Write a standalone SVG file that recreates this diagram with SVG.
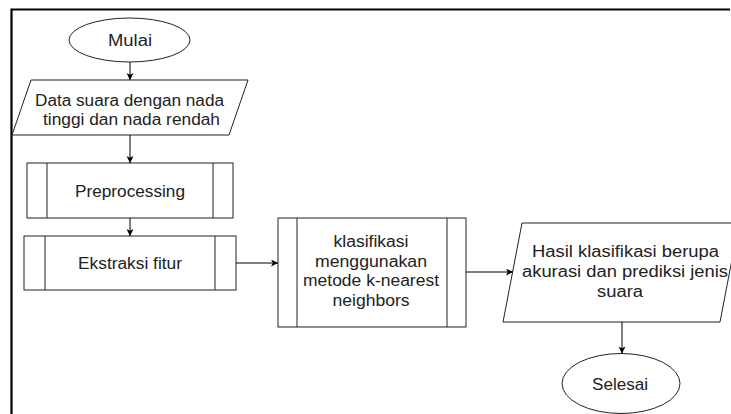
<svg xmlns="http://www.w3.org/2000/svg" width="731" height="414" viewBox="0 0 731 414">
<defs>
<marker id="arr" viewBox="0 0 10 10" refX="10" refY="5" markerWidth="7" markerHeight="7" orient="auto" markerUnits="userSpaceOnUse">
<path d="M0,0 L10,5 L0,10 L2.5,5 Z" fill="#000"/>
</marker>
<style>
.shape{fill:#fff;stroke:#222;stroke-width:1}
.t{font-family:"Liberation Sans",Arial,sans-serif;font-size:16px;fill:#222;text-anchor:middle}
.c{fill:none;stroke:#000;stroke-width:1}
</style>
</defs>
<rect width="731" height="414" fill="#fff"/>
<path d="M11.5,414 V9.5 H730" fill="none" stroke="#000" stroke-width="2.2"/>
<g id="mulai">
<ellipse class="shape" cx="129.5" cy="40" rx="60.5" ry="22"/>
<text class="t" x="130" y="46" textLength="44" lengthAdjust="spacingAndGlyphs">Mulai</text>
</g>
<g id="data">
<polygon class="shape" points="31,80 248,80 229,135 12,135"/>
<text class="t" x="129.5" y="106" textLength="189" lengthAdjust="spacingAndGlyphs">Data suara dengan nada</text>
<text class="t" x="131.5" y="124.5" textLength="177" lengthAdjust="spacingAndGlyphs">tinggi dan nada rendah</text>
</g>
<g id="preprocessing">
<rect class="shape" x="27" y="163" width="206" height="55"/>
<line class="shape" x1="47" y1="163" x2="47" y2="218"/>
<line class="shape" x1="213" y1="163" x2="213" y2="218"/>
<text class="t" x="130" y="196.5" textLength="110" lengthAdjust="spacingAndGlyphs">Preprocessing</text>
</g>
<g id="ekstraksi">
<rect class="shape" x="24" y="236" width="212" height="54"/>
<line class="shape" x1="45" y1="236" x2="45" y2="290"/>
<line class="shape" x1="215" y1="236" x2="215" y2="290"/>
<text class="t" x="130" y="268.5" textLength="104" lengthAdjust="spacingAndGlyphs">Ekstraksi fitur</text>
</g>
<g id="klasifikasi">
<rect class="shape" x="278" y="218" width="188" height="109"/>
<line class="shape" x1="297" y1="218" x2="297" y2="327"/>
<line class="shape" x1="447" y1="218" x2="447" y2="327"/>
<text class="t" x="371" y="247" textLength="75" lengthAdjust="spacingAndGlyphs">klasifikasi</text>
<text class="t" x="371" y="266.5" textLength="112" lengthAdjust="spacingAndGlyphs">menggunakan</text>
<text class="t" x="371" y="286" textLength="136" lengthAdjust="spacingAndGlyphs">metode k-nearest</text>
<text class="t" x="371" y="305.5" textLength="77" lengthAdjust="spacingAndGlyphs">neighbors</text>
</g>
<g id="hasil">
<polygon class="shape" points="522,223 739,223 720,322 503,322"/>
<text class="t" x="625.5" y="257" textLength="187" lengthAdjust="spacingAndGlyphs">Hasil klasifikasi berupa</text>
<text class="t" x="625" y="276.5" textLength="206" lengthAdjust="spacingAndGlyphs">akurasi dan prediksi jenis</text>
<text class="t" x="620" y="296.5" textLength="46" lengthAdjust="spacingAndGlyphs">suara</text>
</g>
<g id="selesai">
<ellipse class="shape" cx="621" cy="383.5" rx="59" ry="30"/>
<text class="t" x="620" y="390" textLength="56" lengthAdjust="spacingAndGlyphs">Selesai</text>
</g>
<g id="connectors">
<line class="c" x1="130" y1="62" x2="130" y2="80" marker-end="url(#arr)"/>
<line class="c" x1="130" y1="135" x2="130" y2="163" marker-end="url(#arr)"/>
<line class="c" x1="130" y1="218" x2="130" y2="236" marker-end="url(#arr)"/>
<line class="c" x1="236" y1="263" x2="278" y2="263" marker-end="url(#arr)"/>
<line class="c" x1="466" y1="272" x2="513" y2="272" marker-end="url(#arr)"/>
<line class="c" x1="622" y1="322" x2="622" y2="353.5" marker-end="url(#arr)"/>
</g>
</svg>
